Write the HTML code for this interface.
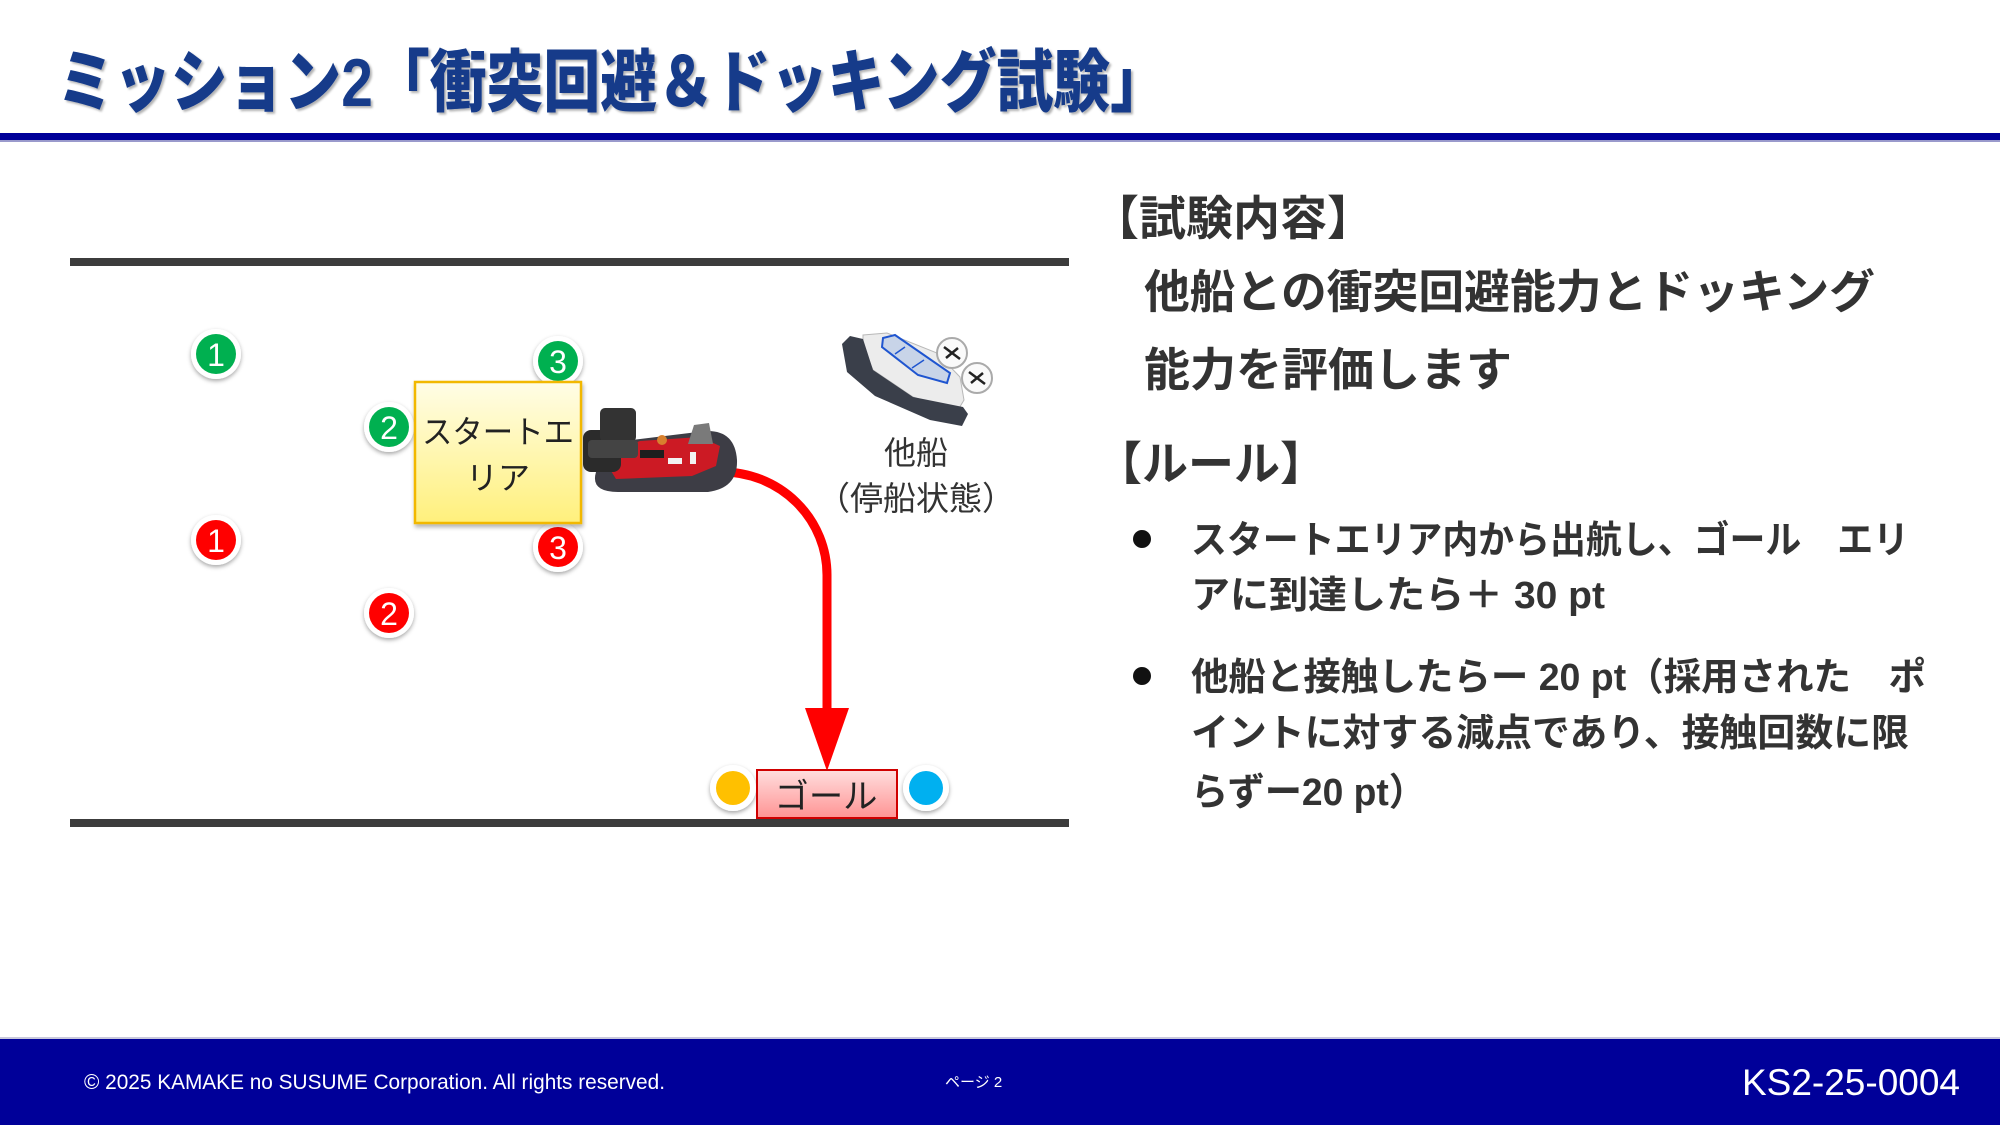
<!DOCTYPE html>
<html><head><meta charset="utf-8"><style>
html,body{margin:0;padding:0;background:#fff;}
svg{display:block;}
</style></head><body>
<svg width="2000" height="1125" viewBox="0 0 2000 1125" xmlns="http://www.w3.org/2000/svg">
<defs>
<filter id="ts" x="-5%" y="-20%" width="110%" height="140%"><feDropShadow dx="2" dy="2" stdDeviation="1" flood-color="#000" flood-opacity="0.3"/></filter>
<filter id="cs" x="-40%" y="-40%" width="180%" height="180%"><feDropShadow dx="0" dy="2" stdDeviation="2" flood-color="#000" flood-opacity="0.35"/></filter>
<filter id="bs" x="-10%" y="-10%" width="120%" height="130%"><feDropShadow dx="1" dy="3" stdDeviation="2" flood-color="#000" flood-opacity="0.3"/></filter>
<linearGradient id="yg" x1="0" y1="0" x2="0" y2="1"><stop offset="0" stop-color="#fffde6"/><stop offset="1" stop-color="#fff07c"/></linearGradient>
<linearGradient id="pg" x1="0" y1="0" x2="0" y2="1"><stop offset="0" stop-color="#ffdede"/><stop offset="1" stop-color="#ff9494"/></linearGradient>
</defs>

<!-- Title -->
<text x="57" y="106" font-family="'Liberation Sans','Noto Sans CJK JP',sans-serif" font-weight="900" font-size="68" fill="#143a8a" textLength="1110" lengthAdjust="spacingAndGlyphs" filter="url(#ts)">ミッション2「衝突回避＆ドッキング試験」</text>
<rect x="0" y="133" width="2000" height="7" fill="#000099"/>
<rect x="0" y="140" width="2000" height="2" fill="#9a9acc"/>

<!-- lane lines -->
<rect x="70" y="258" width="999" height="8" fill="#3c3c3c"/>
<rect x="70" y="819" width="999" height="8" fill="#3c3c3c"/>

<!-- circles -->
<g font-family="'Liberation Sans',sans-serif" font-size="32" fill="#fff" text-anchor="middle">
<g filter="url(#cs)"><circle cx="216" cy="354" r="25" fill="#fff"/></g><circle cx="216" cy="354" r="20" fill="#00b050"/><text x="216" y="366">1</text>
<g filter="url(#cs)"><circle cx="558" cy="361" r="25" fill="#fff"/></g><circle cx="558" cy="361" r="20" fill="#00b050"/><text x="558" y="373">3</text>
<g filter="url(#cs)"><circle cx="389" cy="427" r="25" fill="#fff"/></g><circle cx="389" cy="427" r="20" fill="#00b050"/><text x="389" y="439">2</text>
<g filter="url(#cs)"><circle cx="216" cy="540" r="25" fill="#fff"/></g><circle cx="216" cy="540" r="20" fill="#ff0000"/><text x="216" y="552">1</text>
<g filter="url(#cs)"><circle cx="558" cy="547" r="25" fill="#fff"/></g><circle cx="558" cy="547" r="20" fill="#ff0000"/><text x="558" y="559">3</text>
<g filter="url(#cs)"><circle cx="389" cy="613" r="25" fill="#fff"/></g><circle cx="389" cy="613" r="20" fill="#ff0000"/><text x="389" y="625">2</text>
</g>

<!-- start area -->
<rect x="415" y="382" width="166" height="141" fill="url(#yg)" stroke="#f2b800" stroke-width="2.5" filter="url(#bs)"/>
<g font-family="'Liberation Sans','Noto Sans CJK JP',sans-serif" font-size="32" fill="#222" text-anchor="middle">
<text x="498" y="443" textLength="152" lengthAdjust="spacingAndGlyphs">スタートエ</text>
<text x="498" y="489">リア</text>
</g>

<!-- red arrow -->
<path d="M 722 472 A 105 103 0 0 1 827 575 L 827 712" fill="none" stroke="#ff0000" stroke-width="9"/>
<polygon points="805,708 849,708 827,771" fill="#ff0000"/>

<!-- red hovercraft -->
<g>
<path d="M 596 472 Q 590 492 618 492 L 708 492 Q 738 488 737 460 Q 735 430 706 431 L 632 440 Q 600 446 596 472 Z" fill="#3d3d45"/>
<path d="M 610 452 L 640 441 L 700 437 L 720 446 L 716 466 L 692 476 L 616 479 L 608 466 Z" fill="#cc1a24"/>
<rect x="640" y="450" width="24" height="8" fill="#1e1e1e"/>
<rect x="668" y="458" width="14" height="6" fill="#f2f2f2"/>
<rect x="690" y="452" width="6" height="12" fill="#f2f2f2"/>
<circle cx="662" cy="440" r="5" fill="#d8802e"/>
<polygon points="688,444 694,425 709,423 713,444" fill="#7a7a7a"/>
<rect x="583" y="430" width="38" height="42" rx="8" fill="#2b2b2b"/>
<rect x="600" y="408" width="36" height="34" rx="5" fill="#333"/>
<rect x="588" y="440" width="50" height="18" rx="4" fill="#444"/>
</g>

<!-- other hovercraft -->
<g>
<polygon points="863,335 887,333 937,353 960,377 964,400 958,410 943,407 913,397 873,370 863,347" fill="#ececec" stroke="#b8b8b8" stroke-width="1"/>
<path d="M 850 336 L 863 339 L 873 370 L 913 397 L 963 407 L 968 414 L 962 426 L 930 420 L 875 396 L 847 372 L 842 344 Z" fill="#3a3f4a"/>
<polygon points="883,338 895,335 950,373 947,383 918,375 882,347" fill="#c8d4e8" stroke="#1f55d0" stroke-width="2"/>
<line x1="905" y1="347" x2="895" y2="354" stroke="#1f55d0" stroke-width="1.5"/>
<line x1="924" y1="360" x2="912" y2="368" stroke="#1f55d0" stroke-width="1.5"/>
<circle cx="952" cy="353" r="15" fill="#fafafa" stroke="#aaa" stroke-width="2"/>
<path d="M 944 347 L 960 359 M 946 358 L 958 348" stroke="#222" stroke-width="2.5"/>
<circle cx="977" cy="378" r="15" fill="#fafafa" stroke="#aaa" stroke-width="2"/>
<path d="M 969 372 L 985 384 M 971 383 L 983 373" stroke="#222" stroke-width="2.5"/>
</g>
<g font-family="'Liberation Sans','Noto Sans CJK JP',sans-serif" fill="#333" text-anchor="middle">
<text x="916" y="464" font-size="32">他船</text>
<text x="916" y="510" font-size="33">（停船状態）</text>
</g>

<!-- goal -->
<g filter="url(#cs)"><circle cx="733" cy="788" r="23" fill="#fff"/></g><circle cx="733" cy="788" r="17" fill="#ffc000"/>
<g filter="url(#cs)"><circle cx="926" cy="788" r="23" fill="#fff"/></g><circle cx="926" cy="788" r="17" fill="#00b0f0"/>
<rect x="757" y="770" width="140" height="48" fill="url(#pg)" stroke="#d00000" stroke-width="2"/>
<text x="826" y="808" font-family="'Liberation Sans','Noto Sans CJK JP',sans-serif" font-size="34" fill="#222" text-anchor="middle" textLength="103" lengthAdjust="spacingAndGlyphs">ゴール</text>

<!-- right text -->
<g font-family="'Liberation Sans','Noto Sans CJK JP',sans-serif" font-weight="bold" fill="#333">
<text x="1092" y="235" font-size="47">【試験内容】</text>
<text x="1144" y="308" font-size="46" textLength="731" lengthAdjust="spacingAndGlyphs">他船との衝突回避能力とドッキング</text>
<text x="1144" y="386" font-size="46">能力を評価します</text>
<text x="1096" y="480" font-size="46">【ルール】</text>
<circle cx="1142" cy="539" r="9" fill="#111"/>
<text x="1191" y="553" font-size="38" textLength="718" lengthAdjust="spacingAndGlyphs">スタートエリア内から出航し、ゴール　エリ</text>
<text x="1191" y="608" font-size="38" textLength="414" lengthAdjust="spacingAndGlyphs">アに到達したら＋ 30 pt</text>
<circle cx="1142" cy="676" r="9" fill="#111"/>
<text x="1191" y="690" font-size="38" textLength="735" lengthAdjust="spacingAndGlyphs">他船と接触したらー 20 pt（採用された　ポ</text>
<text x="1191" y="746" font-size="38" textLength="718" lengthAdjust="spacingAndGlyphs">イントに対する減点であり、接触回数に限</text>
<text x="1191" y="805" font-size="38" textLength="235" lengthAdjust="spacingAndGlyphs">らずー20 pt）</text>
</g>

<!-- footer -->
<rect x="0" y="1037" width="2000" height="2" fill="#c8c8dc"/>
<rect x="0" y="1039" width="2000" height="86" fill="#000099"/>
<g font-family="'Liberation Sans','Noto Sans CJK JP',sans-serif" fill="#fff">
<text x="84" y="1089" font-size="21" textLength="581" lengthAdjust="spacingAndGlyphs">© 2025 KAMAKE no SUSUME Corporation. All rights reserved.</text>
<text x="945" y="1087" font-size="15">ページ 2</text>
<text x="1742" y="1095" font-size="37" textLength="218" lengthAdjust="spacingAndGlyphs">KS2-25-0004</text>
</g>
</svg>
</body></html>
